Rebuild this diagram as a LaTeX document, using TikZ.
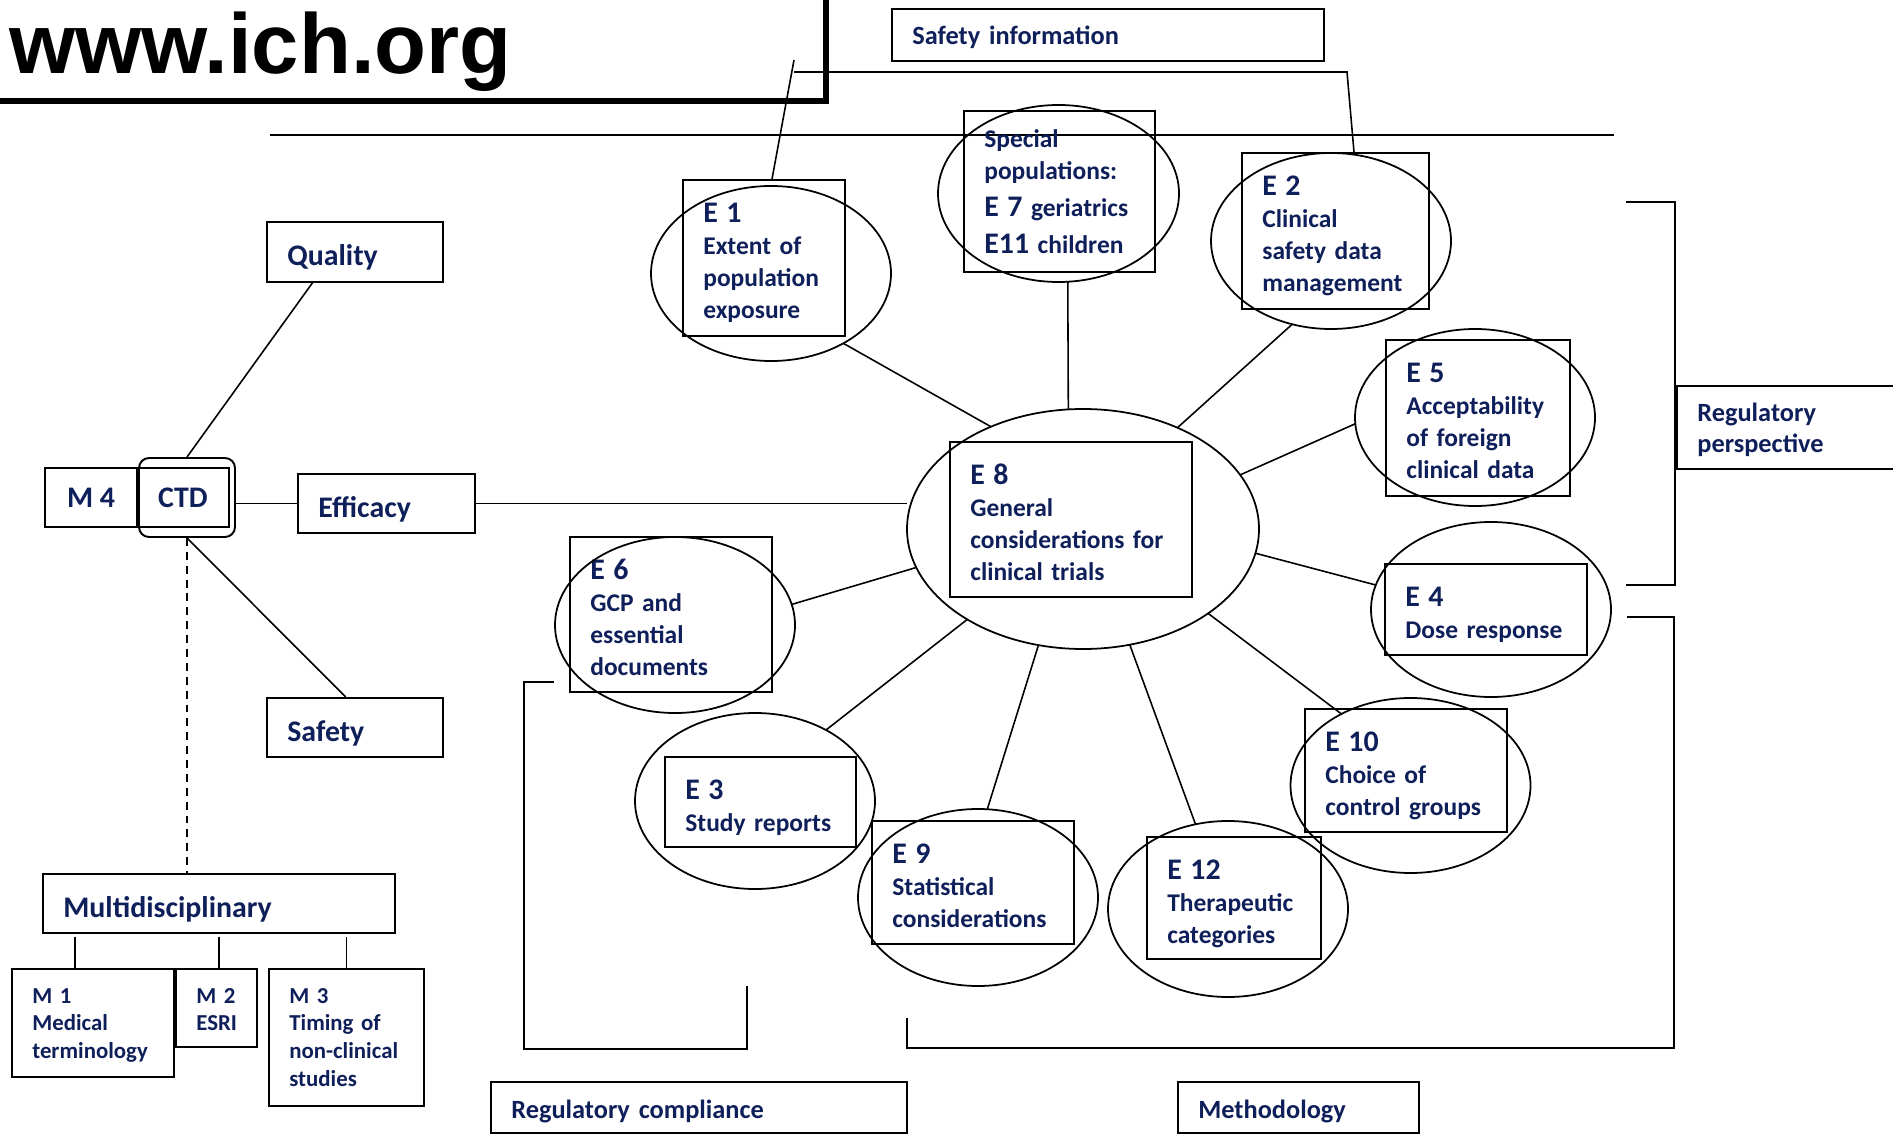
\documentclass[tikz,border=0pt]{standalone}
\usepackage{fontspec}
\setmainfont{Carlito}
\newfontfamily\webfont{Liberation Sans}
\usetikzlibrary{shapes.geometric}

\definecolor{ichnavy}{HTML}{0F1F5A}
\newcommand\enumfont{\fontsize{17}{18.2}\selectfont}

\begin{document}
\begin{tikzpicture}[x=0.02cm, y=-0.02cm,
  boxframe/.style={draw, line width=1.1pt, inner sep=0pt},
  ring/.style={draw, ellipse, line width=1pt, inner sep=0pt, outer sep=0pt},
  link/.style={line width=0.9pt},
  txt/.style={text=ichnavy, anchor=base west, align=left, text width=9cm, inner sep=0pt},
  etext/.style={txt, yshift=-0.85cm, font=\bfseries\fontsize{14.5}{18.2}\selectfont},
  ptext/.style={txt, yshift=-0.73cm, font=\bfseries\fontsize{14.5}{18.2}\selectfont},
  gtext/.style={txt, yshift=-0.87cm, font=\bfseries\fontsize{17}{20}\selectfont},
  ltext/.style={txt, yshift=-0.72cm, font=\bfseries\fontsize{15}{17.6}\selectfont},
  mtext/.style={txt, yshift=-0.68cm, font=\bfseries\fontsize{13}{15.9}\selectfont}]
  \useasboundingbox (0,0) rectangle (1893,1138);
  %----- macros -----
  \def\ebox#1#2#3#4#5#6#7{ % (name, left, top, right, bottom, text style, text)
    \node[boxframe, minimum width={(#4-#2)*0.02cm}, minimum height={(#5-#3)*0.02cm}]
      (#1) at ({(#2+#4)/2},{(#3+#5)/2}) {};
    \node[#6] (#1t) at ({#2+20},#3) {#7};
  }
  \def\ering#1#2#3#4#5{ % (name, centre x, centre y, width, height)
    \node[ring, minimum width={#4*0.02cm}, minimum height={#5*0.02cm}] (#1) at (#2,#3) {};
  }

  %----- header -----
  \draw[line width=3pt] (0,101) -- (826,101) -- (826,0);
  \node[anchor=base west, inner sep=0pt, font=\webfont\bfseries\fontsize{48.4}{50}\selectfont] (web) at (9,74) {www.ich.org};
  \draw[line width=1.4pt] (270,135) -- (1614,135);

  %----- CTD side -----
  \node[boxframe, text=ichnavy, font=\bfseries\fontsize{17}{20}\selectfont,
        minimum width=1.84cm, minimum height=1.18cm] (m4) at (91,497.5) {M 4};
  \node[boxframe, text=ichnavy, font=\bfseries\fontsize{17}{20}\selectfont,
        minimum width=1.84cm, minimum height=1.18cm] (ctd) at (183,497.5) {CTD};
  \node[draw, line width=1.1pt, rounded corners=0.2cm, minimum width=1.92cm, minimum height=1.58cm] (ctdr) at (187,497.5) {};

  \ebox{qual}{267}{222}{443}{282}{gtext}{Quality}
  \ebox{effi}{298}{474}{475}{533}{gtext}{Efficacy}
  \ebox{safe}{267}{698}{443}{757}{gtext}{Safety}
  \ebox{multi}{43}{874}{395}{933}{gtext}{Multidisciplinary}
  \ebox{m1}{12}{969}{174}{1077}{mtext}{M 1\\Medical\\terminology}
  \ebox{m2}{176}{969}{257}{1047}{mtext}{M 2\\ESRI}
  \ebox{m3}{269}{969}{424}{1106}{mtext}{M 3\\Timing of\\non-clinical\\studies}

  \draw[link] (ctdr.north) -- (qual.216);
  \draw[link] (ctdr.south) -- (safe.107);
  \draw[link] (ctdr.east |- effi.west) -- (effi.west);
  \draw[link, dash pattern=on 4.5pt off 3.4pt] (ctdr.south) -- (ctdr.south |- multi.north);
  \draw[link] ([xshift=-0.36cm]m1.north) -- ++(0,-31);
  \draw[link] ([xshift=0.05cm]m2.north) -- ++(0,-31);
  \draw[link] (m3.north) -- ++(0,-31);

  %----- E guidelines -----
  \ebox{e8b}{950}{442}{1192}{597}{etext}{{\enumfont E 8}\\General\\considerations for\\clinical trials}
  \ebox{e1b}{683}{180}{845}{336}{etext}{{\enumfont E 1}\\Extent of\\population\\exposure}
  \ebox{e7b}{964}{111}{1155}{272}{ptext}{Special\\populations:\\[0.1cm]{\enumfont E 7} geriatrics\\[0.1cm]{\enumfont E11} children}
  \ebox{e2b}{1242}{153}{1429}{309}{etext}{{\enumfont E 2}\\Clinical\\safety data\\management}
  \ebox{e5b}{1386}{340}{1570}{496}{etext}{{\enumfont E 5}\\Acceptability\\of foreign\\clinical data}
  \ebox{e4b}{1385}{564}{1587}{655}{etext}{{\enumfont E 4}\\Dose response}
  \ebox{e10b}{1305}{709}{1507}{832}{etext}{{\enumfont E 10}\\Choice of\\control groups}
  \ebox{e12b}{1147}{837}{1321}{959}{etext}{{\enumfont E 12}\\Therapeutic\\categories}
  \ebox{e9b}{872}{821}{1074}{944}{etext}{{\enumfont E 9}\\Statistical\\considerations}
  \ebox{e3b}{665}{757}{856}{847}{etext}{{\enumfont E 3}\\Study reports}
  \ebox{e6b}{570}{537}{772}{692}{etext}{{\enumfont E 6}\\GCP and\\essential\\documents}

  \ering{e8o}{1083}{529}{352}{240}
  \ering{e1o}{771}{273.5}{240}{175}
  \ering{e7o}{1058.5}{193.5}{241}{177}
  \ering{e2o}{1331}{241}{240}{176}
  \ering{e5o}{1475}{417.5}{240}{177}
  \ering{e4o}{1491}{609.5}{240}{175}
  \ering{e10o}{1410.5}{785.5}{240}{175}
  \ering{e12o}{1228}{909}{240}{176}
  \ering{e9o}{978}{897.5}{240}{177}
  \ering{e3o}{755}{801}{240}{176}
  \ering{e6o}{675}{625}{240}{176}

  \draw[link] (effi.east) -- (effi.east -| e8o.west);
  \foreach \a/\b in {e1o.-44.6/e8o.132.7, e7o.-84.5/e8o.97.6, e2o.245.8/e8o.47.3,
                     e5o.183.6/e8o.19.3, e4o.168.9/e8o.-8.1, e10o.134.6/e8o.-34.6,
                     e12o.111.6/e8o.-68.4, e9o.84.2/e8o.-111.6, e3o.45/e8o.218,
                     e6o.10.8/e8o.193.1}
    \draw[link] (\a) -- (\b);

  %----- group labels and brackets -----
  \ebox{sinfo}{892}{9}{1324}{61}{ltext}{Safety information}
  \ebox{rcomp}{491}{1082}{907}{1133}{ltext}{Regulatory compliance}
  \ebox{meth}{1178}{1082}{1419}{1133}{ltext}{Methodology}
  \ebox{rpers}{1677}{386}{1910}{469}{ltext}{Regulatory\\perspective}

  \coordinate (sitop) at (794,60);
  \coordinate (sil) at (794,72);
  \coordinate (sir) at (1347,72);
  \draw[link] ([xshift=0.16cm]e1b.north) -- (sitop);
  \draw[link] (sil) -- (sir) -- ([xshift=0.37cm]e2b.north);
  \draw[boxframe] (1626,202) -- (1675,202) -- (1675,585) -- (1626,585);
  \draw[boxframe] (1627,617) -- (1674,617) -- (1674,1048) -- (907,1048) -- (907,1018);
  \draw[boxframe] (554,682) -- (524,682) -- (524,1049) -- (747,1049) -- (747,986);
\end{tikzpicture}
\end{document}
